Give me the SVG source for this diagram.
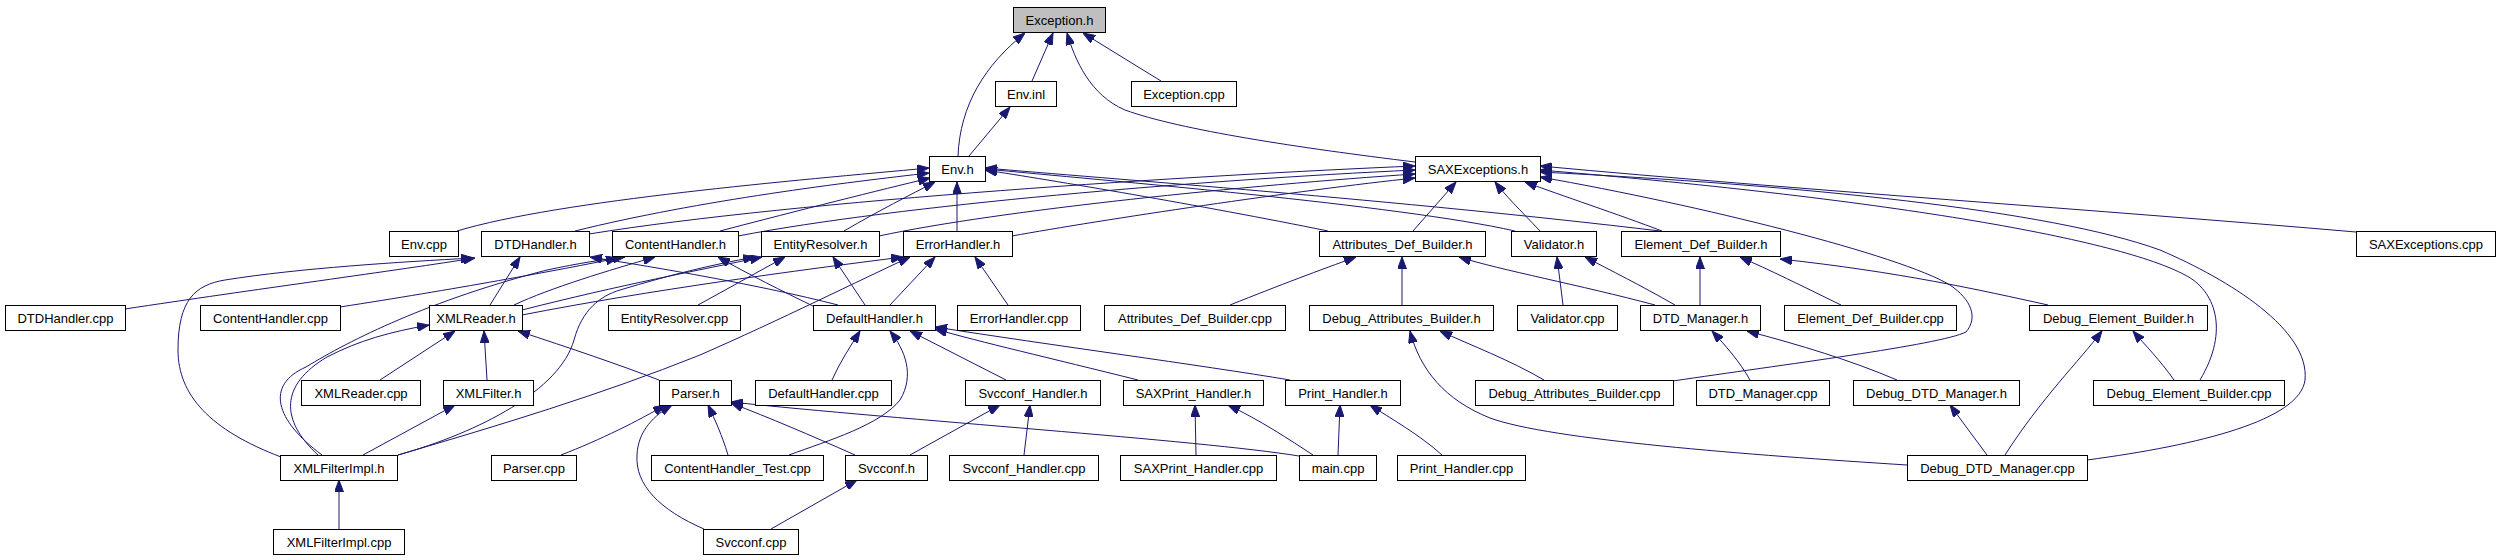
<svg xmlns="http://www.w3.org/2000/svg" width="2501" height="560" viewBox="0 0 2501 560">
<defs>
<style>
.n rect{fill:#fff;stroke:#000;stroke-width:1}
.n text{font-family:"Liberation Sans",Arial,sans-serif;font-size:13px;fill:#000;text-anchor:middle}
#edges path{fill:none;stroke:#191970;stroke-width:1;marker-end:url(#ah)}
</style>
<marker id="ah" markerUnits="userSpaceOnUse" markerWidth="12" markerHeight="9" refX="12" refY="4.5" orient="auto">
<path d="M0,0 L12,4.5 L0,9 z" fill="#191970" stroke="#191970" stroke-width="1"/>
</marker>
</defs>
<rect width="2501" height="560" fill="#fff"/>
<g id="edges">
<path d="M958,156 C960,105 985,65 1025,33"/>
<path d="M1032,81 L1053,33"/>
<path d="M1161,81 L1083,33"/>
<path d="M1415,162 C1300,148 1180,130 1125,110 C1090,95 1075,60 1067,33"/>
<path d="M969,156 L1010,107"/>
<path d="M457,231 C560,200 800,180 929,168"/>
<path d="M575,231 C700,200 850,182 929,173"/>
<path d="M720,231 C800,210 880,190 930,178"/>
<path d="M844,231 C880,210 910,195 935,182"/>
<path d="M957,231 L957,182"/>
<path d="M1328,231 C1200,205 1050,180 985,170"/>
<path d="M1515,231 C1400,205 1100,180 985,169"/>
<path d="M1660,231 C1400,200 1100,178 985,168"/>
<path d="M589,234 C800,200 1200,175 1415,166"/>
<path d="M738,236 C900,205 1200,180 1415,170"/>
<path d="M879,236 C1000,210 1250,185 1415,174"/>
<path d="M1012,236 C1100,220 1300,190 1415,178"/>
<path d="M1413,231 L1456,182"/>
<path d="M1540,231 C1520,210 1505,195 1495,182"/>
<path d="M1662,231 C1620,215 1560,195 1525,182"/>
<path d="M2356,232 C2100,210 1800,190 1540,166"/>
<path d="M2200,380 C2230,330 2215,290 2185,275 C2120,240 1900,200 1540,170"/>
<path d="M2087,460 C2200,445 2300,420 2305,380 C2310,330 2230,280 2160,250 C2050,210 1800,185 1540,172"/>
<path d="M1673,381 C1780,365 1940,345 1966,332 C1978,318 1972,300 1950,285 C1900,255 1700,205 1540,177"/>
<path d="M125,309 C250,290 400,270 475,258"/>
<path d="M281,457 C210,430 178,395 178,350 C178,300 195,285 225,280 C300,268 400,262 473,258"/>
<path d="M340,307 C450,290 560,270 618,258"/>
<path d="M490,305 L520,257"/>
<path d="M514,305 C550,288 610,270 655,257"/>
<path d="M522,310 C620,285 700,270 762,257"/>
<path d="M522,315 C650,290 800,270 903,257"/>
<path d="M698,305 L785,257"/>
<path d="M838,305 C760,285 660,268 590,257"/>
<path d="M815,307 C780,290 750,275 718,257"/>
<path d="M865,305 L833,257"/>
<path d="M890,305 L935,257"/>
<path d="M1008,305 L975,257"/>
<path d="M322,455 C275,420 265,385 306,367 C350,340 430,300 547,270 C580,263 600,260 625,257"/>
<path d="M318,455 C280,420 280,385 327,357 C360,340 390,332 429,325"/>
<path d="M398,455 C480,432 560,390 574,340 C582,310 600,296 620,290 C670,275 710,265 755,257"/>
<path d="M398,455 C500,425 600,395 700,355 C780,320 860,280 910,257"/>
<path d="M380,380 L455,331"/>
<path d="M487,380 L484,331"/>
<path d="M659,380 C620,365 570,348 518,331"/>
<path d="M363,455 L455,405"/>
<path d="M339,529 L339,480"/>
<path d="M561,455 C600,440 640,420 665,405"/>
<path d="M704,529 C660,510 635,485 637,455 C638,430 655,415 672,405"/>
<path d="M728,455 C722,435 715,420 708,405"/>
<path d="M855,455 C810,435 770,418 731,403"/>
<path d="M1299,456 C1200,440 900,420 731,402"/>
<path d="M771,529 L857,480"/>
<path d="M789,455 C830,440 880,425 900,400 C915,375 905,350 890,331"/>
<path d="M832,380 C840,362 850,347 860,331"/>
<path d="M1006,380 L910,331"/>
<path d="M1138,380 C1050,358 980,342 935,329"/>
<path d="M1290,380 C1200,365 1050,345 935,327"/>
<path d="M910,455 L1000,405"/>
<path d="M1024,455 L1030,405"/>
<path d="M1196,455 L1195,405"/>
<path d="M1313,455 C1290,440 1260,420 1228,405"/>
<path d="M1338,455 L1340,405"/>
<path d="M1442,455 C1420,435 1390,418 1370,405"/>
<path d="M1230,305 C1280,285 1320,270 1356,257"/>
<path d="M1402,305 L1402,257"/>
<path d="M1655,305 C1580,285 1500,270 1459,257"/>
<path d="M1563,305 L1557,257"/>
<path d="M1675,305 C1640,285 1610,270 1585,257"/>
<path d="M1700,305 L1700,257"/>
<path d="M1841,305 C1800,285 1770,270 1740,257"/>
<path d="M2048,305 C1980,290 1900,272 1780,259"/>
<path d="M1544,380 C1510,360 1470,345 1440,331"/>
<path d="M1907,465 C1750,455 1550,440 1490,418 C1445,400 1420,370 1410,331"/>
<path d="M1750,380 C1740,362 1725,345 1712,331"/>
<path d="M1897,380 C1850,360 1800,345 1747,331"/>
<path d="M1987,455 L1950,405"/>
<path d="M2005,455 C2040,400 2080,360 2102,331"/>
<path d="M2174,380 C2160,360 2145,345 2133,331"/>
</g>
<g id="n_exception_h" class="n"><rect x="1013.5" y="7.5" width="92" height="25" style="fill:#bfbfbf"/><text x="1059.5" y="24.5">Exception.h</text></g>
<g id="n_env_inl" class="n"><rect x="995.5" y="81.5" width="61" height="25"/><text x="1026" y="98.5">Env.inl</text></g>
<g id="n_exception_cpp" class="n"><rect x="1131.5" y="81.5" width="105" height="25"/><text x="1184" y="98.5">Exception.cpp</text></g>
<g id="n_env_h" class="n"><rect x="929.5" y="156.5" width="56" height="25"/><text x="957.5" y="173.5">Env.h</text></g>
<g id="n_saxexceptions_h" class="n"><rect x="1415.5" y="156.5" width="125" height="25"/><text x="1478" y="173.5">SAXExceptions.h</text></g>
<g id="n_env_cpp" class="n"><rect x="389.5" y="231.5" width="69" height="25"/><text x="424" y="248.5">Env.cpp</text></g>
<g id="n_dtdhandler_h" class="n"><rect x="481.5" y="231.5" width="108" height="25"/><text x="535.5" y="248.5">DTDHandler.h</text></g>
<g id="n_contenthandler_h" class="n"><rect x="612.5" y="231.5" width="126" height="25"/><text x="675.5" y="248.5">ContentHandler.h</text></g>
<g id="n_entityresolver_h" class="n"><rect x="761.5" y="231.5" width="118" height="25"/><text x="820.5" y="248.5">EntityResolver.h</text></g>
<g id="n_errorhandler_h" class="n"><rect x="903.5" y="231.5" width="109" height="25"/><text x="958" y="248.5">ErrorHandler.h</text></g>
<g id="n_attributes_def_builder_h" class="n"><rect x="1319.5" y="231.5" width="166" height="25"/><text x="1402.5" y="248.5">Attributes_Def_Builder.h</text></g>
<g id="n_validator_h" class="n"><rect x="1511.5" y="231.5" width="85" height="25"/><text x="1554" y="248.5">Validator.h</text></g>
<g id="n_element_def_builder_h" class="n"><rect x="1621.5" y="231.5" width="159" height="25"/><text x="1701" y="248.5">Element_Def_Builder.h</text></g>
<g id="n_saxexceptions_cpp" class="n"><rect x="2356.5" y="231.5" width="139" height="25"/><text x="2426" y="248.5">SAXExceptions.cpp</text></g>
<g id="n_dtdhandler_cpp" class="n"><rect x="5.5" y="305.5" width="120" height="25"/><text x="65.5" y="322.5">DTDHandler.cpp</text></g>
<g id="n_contenthandler_cpp" class="n"><rect x="200.5" y="305.5" width="140" height="25"/><text x="270.5" y="322.5">ContentHandler.cpp</text></g>
<g id="n_xmlreader_h" class="n"><rect x="429.5" y="305.5" width="93" height="25"/><text x="476" y="322.5">XMLReader.h</text></g>
<g id="n_entityresolver_cpp" class="n"><rect x="608.5" y="305.5" width="132" height="25"/><text x="674.5" y="322.5">EntityResolver.cpp</text></g>
<g id="n_defaulthandler_h" class="n"><rect x="813.5" y="305.5" width="122" height="25"/><text x="874.5" y="322.5">DefaultHandler.h</text></g>
<g id="n_errorhandler_cpp" class="n"><rect x="957.5" y="305.5" width="123" height="25"/><text x="1019" y="322.5">ErrorHandler.cpp</text></g>
<g id="n_attributes_def_builder_cpp" class="n"><rect x="1104.5" y="305.5" width="181" height="25"/><text x="1195" y="322.5">Attributes_Def_Builder.cpp</text></g>
<g id="n_debug_attributes_builder_h" class="n"><rect x="1309.5" y="305.5" width="184" height="25"/><text x="1401.5" y="322.5">Debug_Attributes_Builder.h</text></g>
<g id="n_validator_cpp" class="n"><rect x="1517.5" y="305.5" width="100" height="25"/><text x="1567.5" y="322.5">Validator.cpp</text></g>
<g id="n_dtd_manager_h" class="n"><rect x="1640.5" y="305.5" width="120" height="25"/><text x="1700.5" y="322.5">DTD_Manager.h</text></g>
<g id="n_element_def_builder_cpp" class="n"><rect x="1784.5" y="305.5" width="172" height="25"/><text x="1870.5" y="322.5">Element_Def_Builder.cpp</text></g>
<g id="n_debug_element_builder_h" class="n"><rect x="2029.5" y="305.5" width="178" height="25"/><text x="2118.5" y="322.5">Debug_Element_Builder.h</text></g>
<g id="n_xmlreader_cpp" class="n"><rect x="301.5" y="380.5" width="119" height="25"/><text x="361" y="397.5">XMLReader.cpp</text></g>
<g id="n_xmlfilter_h" class="n"><rect x="443.5" y="380.5" width="90" height="25"/><text x="488.5" y="397.5">XMLFilter.h</text></g>
<g id="n_parser_h" class="n"><rect x="659.5" y="380.5" width="72" height="25"/><text x="695.5" y="397.5">Parser.h</text></g>
<g id="n_defaulthandler_cpp" class="n"><rect x="755.5" y="380.5" width="136" height="25"/><text x="823.5" y="397.5">DefaultHandler.cpp</text></g>
<g id="n_svcconf_handler_h" class="n"><rect x="965.5" y="380.5" width="135" height="25"/><text x="1033" y="397.5">Svcconf_Handler.h</text></g>
<g id="n_saxprint_handler_h" class="n"><rect x="1123.5" y="380.5" width="140" height="25"/><text x="1193.5" y="397.5">SAXPrint_Handler.h</text></g>
<g id="n_print_handler_h" class="n"><rect x="1285.5" y="380.5" width="115" height="25"/><text x="1343" y="397.5">Print_Handler.h</text></g>
<g id="n_debug_attributes_builder_cpp" class="n"><rect x="1475.5" y="380.5" width="198" height="25"/><text x="1574.5" y="397.5">Debug_Attributes_Builder.cpp</text></g>
<g id="n_dtd_manager_cpp" class="n"><rect x="1696.5" y="380.5" width="133" height="25"/><text x="1763" y="397.5">DTD_Manager.cpp</text></g>
<g id="n_debug_dtd_manager_h" class="n"><rect x="1853.5" y="380.5" width="166" height="25"/><text x="1936.5" y="397.5">Debug_DTD_Manager.h</text></g>
<g id="n_debug_element_builder_cpp" class="n"><rect x="2093.5" y="380.5" width="191" height="25"/><text x="2189" y="397.5">Debug_Element_Builder.cpp</text></g>
<g id="n_xmlfilterimpl_h" class="n"><rect x="280.5" y="455.5" width="117" height="25"/><text x="339" y="472.5">XMLFilterImpl.h</text></g>
<g id="n_parser_cpp" class="n"><rect x="491.5" y="455.5" width="85" height="25"/><text x="534" y="472.5">Parser.cpp</text></g>
<g id="n_contenthandler_test_cpp" class="n"><rect x="651.5" y="455.5" width="172" height="25"/><text x="737.5" y="472.5">ContentHandler_Test.cpp</text></g>
<g id="n_svcconf_h" class="n"><rect x="845.5" y="455.5" width="82" height="25"/><text x="886.5" y="472.5">Svcconf.h</text></g>
<g id="n_svcconf_handler_cpp" class="n"><rect x="949.5" y="455.5" width="149" height="25"/><text x="1024" y="472.5">Svcconf_Handler.cpp</text></g>
<g id="n_saxprint_handler_cpp" class="n"><rect x="1120.5" y="455.5" width="156" height="25"/><text x="1198.5" y="472.5">SAXPrint_Handler.cpp</text></g>
<g id="n_main_cpp" class="n"><rect x="1299.5" y="455.5" width="77" height="25"/><text x="1338" y="472.5">main.cpp</text></g>
<g id="n_print_handler_cpp" class="n"><rect x="1397.5" y="455.5" width="128" height="25"/><text x="1461.5" y="472.5">Print_Handler.cpp</text></g>
<g id="n_debug_dtd_manager_cpp" class="n"><rect x="1907.5" y="455.5" width="180" height="25"/><text x="1997.5" y="472.5">Debug_DTD_Manager.cpp</text></g>
<g id="n_xmlfilterimpl_cpp" class="n"><rect x="273.5" y="529.5" width="131" height="25"/><text x="339" y="546.5">XMLFilterImpl.cpp</text></g>
<g id="n_svcconf_cpp" class="n"><rect x="703.5" y="529.5" width="95" height="25"/><text x="751" y="546.5">Svcconf.cpp</text></g>
</svg>
